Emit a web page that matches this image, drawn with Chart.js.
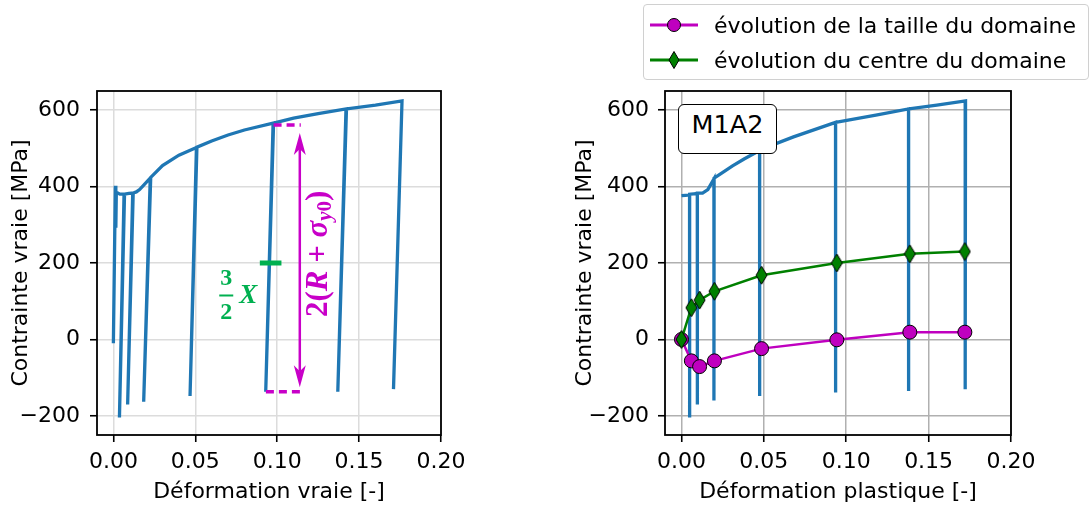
<!DOCTYPE html>
<html>
<head>
<meta charset="utf-8">
<script src="https://cdn.jsdelivr.net/npm/chart.js@4.4.0/dist/chart.umd.min.js"></script>
<style>
  html, body { margin: 0; padding: 0; background: #fff; }
  #page { position: relative; width: 1090px; height: 509px; font-family: "DejaVu Sans", sans-serif; }
  .wrap { position: absolute; top: 0; width: 545px; height: 509px; }
  #legend { position: absolute; left: 643px; top: 4px; width: 444px; height: 74px; border: 1px solid #d0d0d0;
            border-radius: 4px; background: rgba(255,255,255,0.8); }
  .row { position: absolute; left: 6px; height: 34px; display: flex; align-items: center; font-size: 22px;
         color: #000; white-space: nowrap; }
  .row svg { margin-right: 16px; }
  #tag { position: absolute; left: 678px; top: 104px; width: 97px; height: 38px; border: 1.8px solid #000;
         border-radius: 6px; background: #fff; font-size: 25.5px; display: flex; align-items: center;
         justify-content: center; padding-bottom: 10px; box-sizing: content-box; }
</style>
</head>
<body>
<div id="page">
  <div class="wrap" style="left:0"><canvas id="left" width="545" height="509"></canvas></div>
  <div class="wrap" style="left:545px"><canvas id="right" width="545" height="509"></canvas></div>
  <div id="legend">
    <div class="row" style="top:3px">
      <svg width="48" height="20"><line x1="0" y1="10" x2="48" y2="10" stroke="#bf00bf" stroke-width="3"/>
        <circle cx="24" cy="10" r="6.5" fill="#bf00bf" stroke="#000" stroke-width="1"/></svg>
      <span>évolution de la taille du domaine</span>
    </div>
    <div class="row" style="top:38px">
      <svg width="48" height="20"><line x1="0" y1="10" x2="48" y2="10" stroke="#008000" stroke-width="3"/>
        <polygon points="24,1.5 29,10 24,18.5 19,10" fill="#008000" stroke="#000" stroke-width="1"/></svg>
      <span>évolution du centre du domaine</span>
    </div>
  </div>
  <div id="tag">M1A2</div>
</div>
<script>
// left: true strain / true stress
const totalStrain = [0.0000, 0.0012, 0.0015, 0.0018, 0.0040, 0.0065, 0.0037, 0.0068, 0.0095, 0.0118, 0.0087, 0.0121,
  0.0140, 0.0160, 0.0225, 0.0185, 0.0228, 0.0300, 0.0400, 0.0507, 0.0468, 0.0510, 0.0600, 0.0700, 0.0800, 0.0975,
  0.0930, 0.0978, 0.1100, 0.1250, 0.1420, 0.1370, 0.1423, 0.1600, 0.1762, 0.1710];
const totalStress = [-10, 402, 292, 385, 380, 380, -204, 380, 382, 383, -170, 383,
  386, 392, 422, -163, 424, 455, 482, 502, -148, 503, 519, 535, 548, 566,
  -137, 566, 579, 591, 603, -137, 603, 613, 624, -130];

// right: plastic strain / true stress
const plasticStrain = [0.0000, 0.0025, 0.0049, 0.0049, 0.0050, 0.0075, 0.0096, 0.0096, 0.0097, 0.0128, 0.0160,
  0.0197, 0.0197, 0.0198, 0.0260, 0.0310, 0.0380, 0.0474, 0.0474, 0.0475, 0.0680, 0.0935, 0.0935, 0.0936, 0.1180,
  0.1378, 0.1378, 0.1379, 0.1550, 0.1724, 0.1722];
const plasticStress = [376, 377, 378, -204, 380, 381, 382, -170, 383, 383, 392,
  420, -160, 422, 440, 454, 472, 494, -148, 496, 530, 568, -139, 568, 587,
  603, -135, 603, 613, 624, -130];

const markerStrain = [0, 0.006, 0.011, 0.020, 0.0486, 0.0943, 0.1386, 0.172];
const sizeEvolution = [0, -56, -71, -56, -24, -1, 19, 19];
const centreEvolution = [0, 83, 103, 126, 168, 200, 224, 230];

const xTicks = [0, 0.05, 0.10, 0.15, 0.20];
const yTicks = [-200, 0, 200, 400, 600];

// annotation anchors (data units, left plot)
const rangeTopX = [0.0978, 0.1144], rangeTopY = 561;
const rangeBottomX = [0.0931, 0.1144], rangeBottomY = -137;
const arrowX = 0.1138, arrowTop = 540, arrowBottom = -125;
const rangeLabelAt = [0.1256, 224];
const centreMarkX = [0.0894, 0.1026], centreMarkY = 200;
const centreLabelAt = [0.0689, 115];

const FONT = '"DejaVu Sans", sans-serif';
const SERIF = '"Liberation Serif", "DejaVu Serif", serif';
const BLUE = '#1f77b4', MAG = '#bf00bf', GREEN = '#008000';
const ANN_MAG = '#c800c8', ANN_GREEN = '#00b050';

const pts = (xs, ys) => xs.map((x, i) => ({ x, y: ys[i] }));

function thinDiamond() {
  const c = document.createElement('canvas');
  c.width = 13; c.height = 20;
  const g = c.getContext('2d');
  g.beginPath();
  g.moveTo(6.5, 1); g.lineTo(12, 10); g.lineTo(6.5, 19); g.lineTo(1, 10); g.closePath();
  g.fillStyle = GREEN; g.fill();
  g.lineWidth = 1; g.strokeStyle = '#000'; g.stroke();
  return c;
}

function scales(xTitle, yTitlePad, yTickPad, gridColor, yWidth) {
  return {
    x: {
      type: 'linear', min: -0.01, max: 0.2,
      afterBuildTicks: s => { s.ticks = xTicks.map(v => ({ value: v })); },
      afterFit: s => { s.height = 74; },
      ticks: { callback: v => v.toFixed(2), color: '#000', font: { size: 22, family: FONT },
               padding: 6.8, maxRotation: 0, autoSkip: false },
      grid: { color: gridColor, lineWidth: 1.5, tickColor: '#000', tickLength: 7, tickWidth: 1.6 },
      border: { display: false },
      title: { display: true, text: xTitle, color: '#000', font: { size: 22, family: FONT },
               padding: { top: 0, bottom: 3.8 } }
    },
    y: {
      type: 'linear', min: -250, max: 650,
      afterBuildTicks: s => { s.ticks = yTicks.map(v => ({ value: v })); },
      afterFit: s => { s.width = yWidth; },
      ticks: { callback: v => (v < 0 ? '\u2212' + Math.abs(v) : String(v)), color: '#000',
               font: { size: 22, family: FONT }, padding: yTickPad, autoSkip: false },
      grid: { color: gridColor, lineWidth: 1.5, tickColor: '#000', tickLength: 7, tickWidth: 1.6 },
      border: { display: false },
      title: { display: true, text: 'Contrainte vraie [MPa]', color: '#000', font: { size: 22, family: FONT },
               padding: { top: yTitlePad, bottom: 0 } }
    }
  };
}

const frame = {
  id: 'frame',
  afterDatasetsDraw(chart) {
    const a = chart.chartArea, c = chart.ctx;
    c.save();
    c.strokeStyle = '#000';
    c.lineWidth = 1.8;
    c.strokeRect(a.left, a.top, a.right - a.left, a.bottom - a.top);
    c.restore();
  }
};

const notes = {
  id: 'notes',
  afterDatasetsDraw(chart) {
    const c = chart.ctx, xs = chart.scales.x, ys = chart.scales.y;
    c.save();
    // double arrow
    const ax = xs.getPixelForValue(arrowX);
    const t = ys.getPixelForValue(arrowTop), b = ys.getPixelForValue(arrowBottom);
    c.strokeStyle = ANN_MAG; c.fillStyle = ANN_MAG; c.lineWidth = 2.5;
    c.beginPath(); c.moveTo(ax, t + 16); c.lineTo(ax, b - 16); c.stroke();
    const head = (y, dir) => {
      c.beginPath();
      c.moveTo(ax, y);
      c.lineTo(ax + 6, y + 22 * dir);
      c.lineTo(ax, y + 16 * dir);
      c.lineTo(ax - 6, y + 22 * dir);
      c.closePath(); c.fill();
    };
    head(t, 1); head(b, -1);

    // rotated label 2(R + sigma_y0)
    const segs = [
      { s: '2(', f: 'bold 31px ' + SERIF, dy: 0 },
      { s: 'R', f: 'bold italic 31px ' + SERIF, dy: 0 },
      { s: ' + ', f: 'bold 31px ' + SERIF, dy: 0 },
      { s: 'σ', f: 'bold italic 31px ' + SERIF, dy: 0 },
      { s: 'y', f: 'bold italic 21px ' + SERIF, dy: 6 },
      { s: '0', f: 'bold 21px ' + SERIF, dy: 6 },
      { s: ')', f: 'bold 31px ' + SERIF, dy: 0 }
    ];
    let total = 0;
    segs.forEach(g => { c.font = g.f; g.w = c.measureText(g.s).width; total += g.w; });
    c.translate(xs.getPixelForValue(rangeLabelAt[0]), ys.getPixelForValue(rangeLabelAt[1]));
    c.rotate(-Math.PI / 2);
    c.textBaseline = 'middle'; c.textAlign = 'left';
    let px = -total / 2;
    segs.forEach(g => { c.font = g.f; c.fillText(g.s, px, g.dy); px += g.w; });
    c.setTransform(1, 0, 0, 1, 0, 0);

    // 3/2 X
    const fx = xs.getPixelForValue(centreLabelAt[0]), fy = ys.getPixelForValue(centreLabelAt[1]);
    c.fillStyle = ANN_GREEN; c.strokeStyle = ANN_GREEN;
    c.textAlign = 'center'; c.textBaseline = 'middle';
    c.font = 'bold 24px ' + SERIF;
    c.fillText('3', fx, fy - 17);
    c.fillText('2', fx, fy + 17);
    c.lineWidth = 2;
    c.beginPath(); c.moveTo(fx - 7, fy); c.lineTo(fx + 7, fy); c.stroke();
    c.font = 'bold italic 27px ' + SERIF;
    c.fillText('X', fx + 22, fy + 1);
    c.restore();
  }
};

const base = {
  responsive: false, animation: false, events: [],
  plugins: { legend: { display: false }, tooltip: { enabled: false } },
  elements: { line: { tension: 0 } }
};

new Chart(document.getElementById('left'), {
  type: 'line',
  data: {
    datasets: [
      { data: pts(totalStrain, totalStress), borderColor: BLUE, borderWidth: 3.3, pointRadius: 0, order: 3 },
      { data: pts(rangeTopX, [rangeTopY, rangeTopY]), borderColor: ANN_MAG, borderWidth: 3.5,
        borderDash: [8, 5], pointRadius: 0, order: 2 },
      { data: pts(rangeBottomX, [rangeBottomY, rangeBottomY]), borderColor: ANN_MAG, borderWidth: 3.5,
        borderDash: [8, 5], pointRadius: 0, order: 2 },
      { data: pts(centreMarkX, [centreMarkY, centreMarkY]), borderColor: ANN_GREEN, borderWidth: 5,
        pointRadius: 0, order: 1 }
    ]
  },
  options: Object.assign({}, base, {
    layout: { padding: { left: 0, right: 104, top: 91, bottom: 0 } },
    scales: scales('Déformation vraie [-]', 7.8, 10, '#dcdcdc', 97)
  }),
  plugins: [notes, frame]
});

new Chart(document.getElementById('right'), {
  type: 'line',
  data: {
    datasets: [
      { data: pts(plasticStrain, plasticStress), borderColor: BLUE, borderWidth: 3.3, pointRadius: 0, order: 3 },
      { label: 'évolution de la taille du domaine', data: pts(markerStrain, sizeEvolution), borderColor: MAG,
        borderWidth: 2.5, pointRadius: 7, pointBackgroundColor: MAG, pointBorderColor: '#000',
        pointBorderWidth: 1, order: 2 },
      { label: 'évolution du centre du domaine', data: pts(markerStrain, centreEvolution), borderColor: GREEN,
        borderWidth: 2.5, pointRadius: 8, pointStyle: thinDiamond(), order: 1 }
    ]
  },
  options: Object.assign({}, base, {
    layout: { padding: { left: 0, right: 79, top: 91, bottom: 0 } },
    scales: scales('Déformation plastique [-]', 26.8, 9, '#b0b0b0', 120)
  }),
  plugins: [frame]
});
</script>
</body>
</html>
